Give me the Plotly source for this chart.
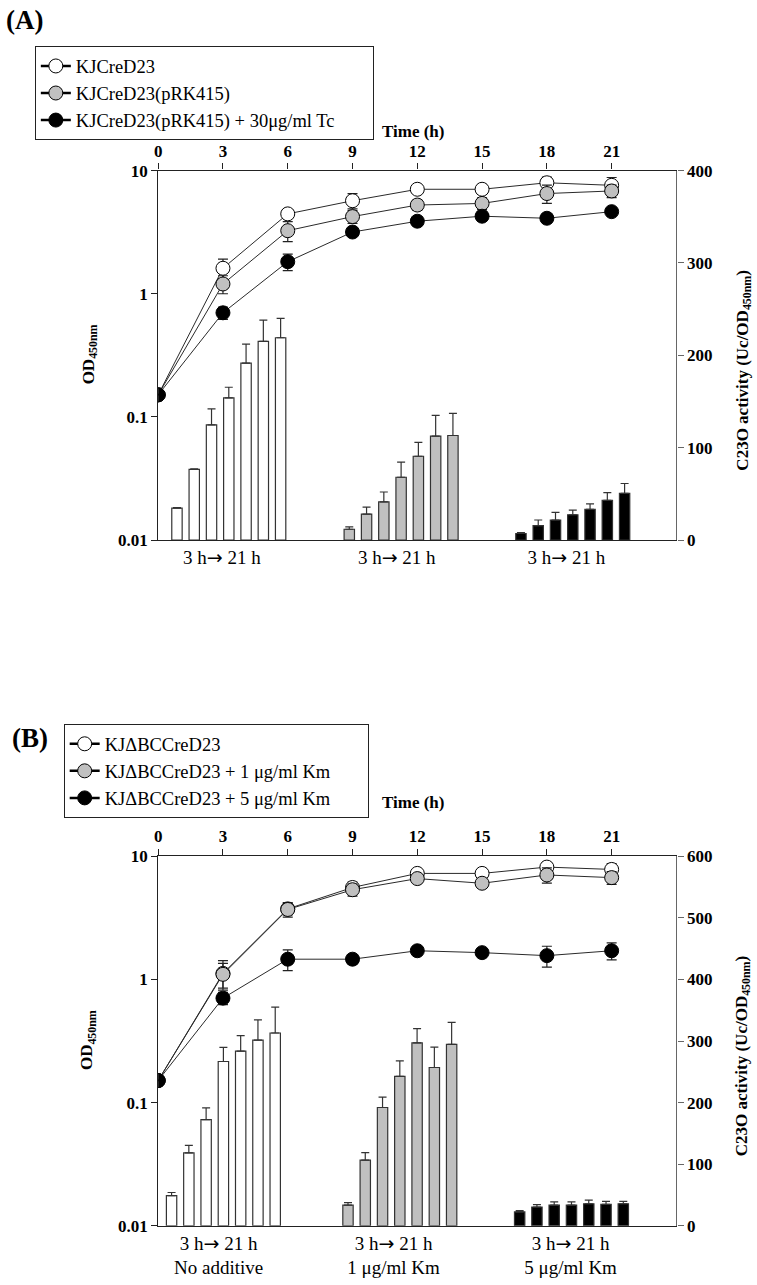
import plotly.graph_objects as go

SERIF = "Liberation Serif"

# ---------------- data ----------------
hours = [0, 3, 6, 9, 12, 15, 18, 21]
top_ticks = ["0", "3", "6", "9", "12", "15", "18", "21"]

ARROW = '<span style="font-family:DejaVu Sans">\u2192</span>'
PAD = "\u00a0" * 7

# Panel A
a_names = ["KJCreD23", "KJCreD23(pRK415)", "KJCreD23(pRK415) + 30μg/ml Tc"]
a_od_white = [0.151, 1.61, 4.45, 5.69, 7.05, 7.05, 7.96, 7.59]
a_od_white_err = [0, 0.3, 0.3, 0.8, 0.3, 0.6, 0.9, 1.2]
a_od_gray = [0.151, 1.20, 3.25, 4.23, 5.25, 5.41, 6.51, 6.83]
a_od_gray_err = [0, 0.2, 0.6, 0.5, 0.5, 0.6, 1.1, 0.8]
a_od_black = [0.151, 0.70, 1.82, 3.17, 3.88, 4.26, 4.10, 4.64]
a_od_black_err = [0, 0.08, 0.28, 0.2, 0.2, 0.2, 0.2, 0.2]

a_act_white = [34.5, 76.5, 124.6, 154, 191.5, 215, 219]
a_act_white_err = [0.5, 0.5, 17.4, 11.4, 20.5, 23, 21]
a_act_gray = [11.7, 28.1, 41.3, 68, 90.7, 112.5, 113.2]
a_act_gray_err = [2.5, 7.5, 10.7, 16.3, 15, 22.4, 24]
a_act_black = [7.1, 15.7, 21.7, 27.4, 33.1, 43.1, 50.5]
a_act_black_err = [1, 6, 8.2, 5, 6.1, 8.2, 10.7]
a_group_labels = ["3 h" + ARROW + " 21 h"] * 3

# Panel B
b_names = ["KJΔBCCreD23", "KJΔBCCreD23 + 1 μg/ml Km", "KJΔBCCreD23 + 5 μg/ml Km"]
b_od_white = [0.151, 1.12, 3.74, 5.58, 7.26, 7.26, 8.17, 7.82]
b_od_white_err = [0, 0.3, 0.4, 0.6, 0.4, 0.6, 0.7, 0.9]
b_od_gray = [0.151, 1.10, 3.70, 5.35, 6.59, 6.04, 7.05, 6.71]
b_od_gray_err = [0, 0.25, 0.5, 0.6, 0.5, 0.5, 1.0, 0.8]
b_od_black = [0.151, 0.705, 1.46, 1.46, 1.71, 1.65, 1.56, 1.71]
b_od_black_err = [0, 0.08, 0.28, 0.12, 0.12, 0.12, 0.3, 0.27]

b_act_white = [49, 118.4, 172.3, 266.7, 283.7, 301.3, 313]
b_act_white_err = [5, 12, 19, 23, 25, 33, 42]
b_act_gray = [33.6, 106.7, 192, 242.7, 297, 257, 294.4]
b_act_gray_err = [4, 12, 17, 25, 23, 33, 36]
b_act_black = [22.4, 30.4, 33.6, 33.6, 35.7, 34.7, 35.7]
b_act_black_err = [2, 4, 5, 5, 6, 5, 4]
b_group_labels = ["3 h" + ARROW + " 21 h<br>No additive",
                  "3 h" + ARROW + " 21 h<br>1 μg/ml Km",
                  "3 h" + ARROW + " 21 h<br>5 μg/ml Km"]

# ---------------- layout helpers ----------------
W, H = 757, 1285
FILLS = ["white", "#c0c0c0", "black"]
LINE_C = "#2a2a2a"


def px_x(p):
    return p / W


def px_y(p):
    return 1 - p / H


XD = [px_x(155), px_x(676)]
A_YD = [px_y(539), px_y(164)]
B_YD = [px_y(1235), px_y(860)]

A_STARTS = [0.87, 8.85, 16.8]
B_STARTS = [0.62, 8.79, 16.74]
SPACING = 0.8
BAR_W = 0.48
A_LABEL_POS = [2.95, 11.05, 18.9]
B_LABEL_POS = [2.8, 10.9, 19.1]

fig = go.Figure()


def add_bars(xa, ya, starts, vals_list, errs_list):
    for g, (vals, errs) in enumerate(zip(vals_list, errs_list)):
        xs = [starts[g] + SPACING * i for i in range(len(vals))]
        fig.add_trace(go.Bar(
            x=xs, y=vals, width=BAR_W, xaxis=xa, yaxis=ya,
            marker=dict(color=FILLS[g], line=dict(color="#333", width=1.2)),
            error_y=dict(type="data", array=errs, arrayminus=[0] * len(errs),
                         symmetric=False, color="#333", thickness=1.2, width=4),
            showlegend=False, hoverinfo="y"))


def add_lines(xa, ya, series, errs, names, legend):
    for g in range(3):
        fig.add_trace(go.Scatter(
            x=hours, y=series[g], xaxis=xa, yaxis=ya, mode="lines+markers",
            line=dict(color=LINE_C, width=1),
            marker=dict(size=14, color=FILLS[g], line=dict(color="black", width=1)),
            error_y=dict(type="data", array=errs[g], color="#222", thickness=1.2, width=5),
            showlegend=False, name=names[g]))
    for g in range(3):
        label = names[g] + (PAD if g == 2 else "")
        fig.add_trace(go.Scatter(
            x=[None], y=[None], xaxis=xa, yaxis=ya, mode="lines+markers",
            line=dict(color="black", width=2.5),
            marker=dict(size=14, color=FILLS[g], line=dict(color="black", width=1)),
            name=label, legend=legend, showlegend=True))


add_bars("x", "y2", A_STARTS, [a_act_white, a_act_gray, a_act_black],
         [a_act_white_err, a_act_gray_err, a_act_black_err])
add_lines("x2", "y", [a_od_white, a_od_gray, a_od_black],
          [a_od_white_err, a_od_gray_err, a_od_black_err], a_names, "legend")

add_bars("x3", "y4", B_STARTS, [b_act_white, b_act_gray, b_act_black],
         [b_act_white_err, b_act_gray_err, b_act_black_err])
add_lines("x4", "y3", [b_od_white, b_od_gray, b_od_black],
          [b_od_white_err, b_od_gray_err, b_od_black_err], b_names, "legend2")

tick_bold = dict(family=SERIF, size=17, color="black", weight="bold")
bottom_font = dict(family=SERIF, size=19, color="black")


def bottom_axis(yname, pos, labels):
    return dict(domain=XD, anchor=yname, range=[0, 24], tickmode="array",
                tickvals=pos, ticktext=labels, ticks="", showline=True,
                linecolor="#222", linewidth=1.3, showgrid=False, zeroline=False,
                tickfont=bottom_font, fixedrange=True)


def top_axis(over, yname):
    return dict(overlaying=over, side="top", anchor=yname, range=[0, 24],
                tickmode="array", tickvals=hours, ticktext=top_ticks,
                ticks="outside", ticklen=6, tickcolor="#222", tickwidth=1.2,
                showline=True, linecolor="#222", linewidth=1.3, showgrid=False,
                zeroline=False, tickfont=tick_bold)


def log_axis(xname, dom):
    return dict(domain=dom, anchor=xname, type="log", range=[-2, 1],
                tickmode="array", tickvals=[0.01, 0.1, 1, 10],
                ticktext=["0.01", "0.1", "1", "10"], ticks="outside", ticklen=6,
                tickcolor="#222", tickwidth=1.2, showline=True, linecolor="#222",
                linewidth=1.3, showgrid=False, zeroline=False, tickfont=tick_bold)


def right_axis(over, xname, top):
    return dict(overlaying=over, side="right", anchor=xname, range=[0, top],
                tickmode="linear", tick0=0, dtick=100, ticks="outside", ticklen=6,
                tickcolor="#666", tickwidth=1.2, showline=True, linecolor="#666",
                linewidth=1.3, showgrid=False, zeroline=False, tickfont=tick_bold)


legend_common = dict(xanchor="left", yanchor="top", bgcolor="white",
                     bordercolor="#222", borderwidth=1,
                     font=dict(family=SERIF, size=18.5, color="black"),
                     tracegroupgap=0, itemsizing="trace")

fig.update_layout(
    width=W, height=H, autosize=False,
    margin=dict(l=0, r=0, t=0, b=0),
    paper_bgcolor="white", plot_bgcolor="rgba(0,0,0,0)",
    barmode="overlay", showlegend=True,
    xaxis=bottom_axis("y", A_LABEL_POS, a_group_labels),
    xaxis2=top_axis("x", "y"),
    yaxis=log_axis("x", A_YD),
    yaxis2=right_axis("y", "x", 400),
    xaxis3=bottom_axis("y3", B_LABEL_POS, b_group_labels),
    xaxis4=top_axis("x3", "y3"),
    yaxis3=log_axis("x3", B_YD),
    yaxis4=right_axis("y3", "x3", 600),
    legend=dict(x=px_x(31), y=px_y(38), **legend_common),
    legend2=dict(x=px_x(60), y=px_y(726), **legend_common),
)

ann_title = dict(family=SERIF, size=17, color="black", weight="bold")
annotations = [
    dict(text="(A)", x=px_x(0), y=px_y(11), xanchor="left", yanchor="middle",
         font=dict(family=SERIF, size=27, color="black", weight="bold")),
    dict(text="(B)", x=px_x(6), y=px_y(740), xanchor="left", yanchor="middle",
         font=dict(family=SERIF, size=27, color="black", weight="bold")),
    dict(text="Time (h)", x=px_x(378), y=px_y(124), xanchor="left", yanchor="middle",
         font=ann_title),
    dict(text="Time (h)", x=px_x(378), y=px_y(805), xanchor="left", yanchor="middle",
         font=ann_title),
    dict(text="OD<sub>450nm</sub>", x=px_x(86), y=px_y(351), textangle=-90,
         xanchor="center", yanchor="middle", font=ann_title),
    dict(text="OD<sub>450nm</sub>", x=px_x(84), y=px_y(1047), textangle=-90,
         xanchor="center", yanchor="middle", font=ann_title),
    dict(text="C23O activity (Uc/OD<sub>450nm</sub>)", x=px_x(743), y=px_y(367),
         textangle=-90, xanchor="center", yanchor="middle", font=ann_title),
    dict(text="C23O activity (Uc/OD<sub>450nm</sub>)", x=px_x(743), y=px_y(1063),
         textangle=-90, xanchor="center", yanchor="middle", font=ann_title),
]
for a in annotations:
    a.update(xref="paper", yref="paper", showarrow=False)
fig.update_layout(annotations=annotations)

fig.write_html("out.html", config={"displayModeBar": False},
               post_script="document.body.style.margin='0';document.body.style.overflow='hidden';")
